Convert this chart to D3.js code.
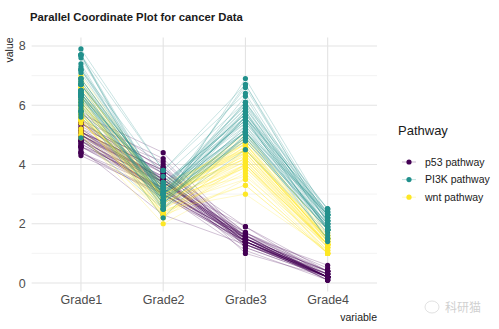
<!DOCTYPE html>
<html>
<head>
<meta charset="utf-8">
<script src="https://cdn.jsdelivr.net/npm/d3@7"></script>
<style>
  html, body { margin: 0; padding: 0; background: #fff; }
  svg { display: block; font-family: "Liberation Sans", Arial, sans-serif; }
</style>
</head>
<body>
<svg id="chart" width="499" height="329"></svg>
<script>
// one row per sample; pathway codes index into pathways[]
const variables = ["Grade1", "Grade2", "Grade3", "Grade4"];
const pathways = ["p53 pathway", "PI3K pathway", "wnt pathway"];
const colors = ["#440154", "#21908C", "#FDE725"];
const yTicks = [0, 2, 4, 6, 8];
const yMinor = [1, 3, 5, 7];

const grade1 = [5.1,4.9,4.7,4.6,5.0,5.4,4.6,5.0,4.4,4.9,5.4,4.8,4.8,4.3,5.8,5.7,5.4,5.1,5.7,5.1,5.4,5.1,4.6,5.1,4.8,5.0,5.0,5.2,5.2,4.7,4.8,5.4,5.2,5.5,4.9,5.0,5.5,4.9,4.4,5.1,5.0,4.5,4.4,5.0,5.1,4.8,5.1,4.6,5.3,5.0,
  7.0,6.4,6.9,5.5,6.5,5.7,6.3,4.9,6.6,5.2,5.0,5.9,6.0,6.1,5.6,6.7,5.6,5.8,6.2,5.6,5.9,6.1,6.3,6.1,6.4,6.6,6.8,6.7,6.0,5.7,5.5,5.5,5.8,6.0,5.4,6.0,6.7,6.3,5.6,5.5,5.5,6.1,5.8,5.0,5.6,5.7,5.7,6.2,5.1,5.7,
  6.3,5.8,7.1,6.3,6.5,7.6,4.9,7.3,6.7,7.2,6.5,6.4,6.8,5.7,5.8,6.4,6.5,7.7,7.7,6.0,6.9,5.6,7.7,6.3,6.7,7.2,6.2,6.1,6.4,7.2,7.4,7.9,6.4,6.3,6.1,7.7,6.3,6.4,6.0,6.9,6.7,6.9,5.8,6.8,6.7,6.7,6.3,6.5,6.2,5.9];
const grade2 = [3.5,3.0,3.2,3.1,3.6,3.9,3.4,3.4,2.9,3.1,3.7,3.4,3.0,3.0,4.0,4.4,3.9,3.5,3.8,3.8,3.4,3.7,3.6,3.3,3.4,3.0,3.4,3.5,3.4,3.2,3.1,3.4,4.1,4.2,3.1,3.2,3.5,3.6,3.0,3.4,3.5,2.3,3.2,3.5,3.8,3.0,3.8,3.2,3.7,3.3,
  3.2,3.2,3.1,2.3,2.8,2.8,3.3,2.4,2.9,2.7,2.0,3.0,2.2,2.9,2.9,3.1,3.0,2.7,2.2,2.5,3.2,2.8,2.5,2.8,2.9,3.0,2.8,3.0,2.9,2.6,2.4,2.4,2.7,2.7,3.0,3.4,3.1,2.3,3.0,2.5,2.6,3.0,2.6,2.3,2.7,3.0,2.9,2.9,2.5,2.8,
  3.3,2.7,3.0,2.9,3.0,3.0,2.5,2.9,2.5,3.6,3.2,2.7,3.0,2.5,2.8,3.2,3.0,3.8,2.6,2.2,3.2,2.8,2.8,2.7,3.3,3.2,2.8,3.0,2.8,3.0,2.8,3.8,2.8,2.8,2.6,3.0,3.4,3.1,3.0,3.1,3.1,3.1,2.7,3.2,3.3,3.0,2.5,3.0,3.4,3.0];
const grade3 = [1.4,1.4,1.3,1.5,1.4,1.7,1.4,1.5,1.4,1.5,1.5,1.6,1.4,1.1,1.2,1.5,1.3,1.4,1.7,1.5,1.7,1.5,1.0,1.7,1.9,1.6,1.6,1.5,1.4,1.6,1.6,1.5,1.5,1.4,1.5,1.2,1.3,1.4,1.3,1.5,1.3,1.3,1.3,1.6,1.9,1.4,1.6,1.4,1.5,1.4,
  4.7,4.5,4.9,4.0,4.6,4.5,4.7,3.3,4.6,3.9,3.5,4.2,4.0,4.7,3.6,4.4,4.5,4.1,4.5,3.9,4.8,4.0,4.9,4.7,4.3,4.4,4.8,5.0,4.5,3.5,3.8,3.7,3.9,5.1,4.5,4.5,4.7,4.4,4.1,4.0,4.4,4.6,4.0,3.3,4.2,4.2,4.2,4.3,3.0,4.1,
  6.0,5.1,5.9,5.6,5.8,6.6,4.5,6.3,5.8,6.1,5.1,5.3,5.5,5.0,5.1,5.3,5.5,6.7,6.9,5.0,5.7,4.9,6.7,4.9,5.7,6.0,4.8,4.9,5.6,5.8,6.1,6.4,5.6,5.1,5.6,6.1,5.6,5.5,4.8,5.4,5.6,5.1,5.1,5.9,5.7,5.2,5.0,5.2,5.4,5.1];
const grade4 = [0.2,0.2,0.2,0.2,0.2,0.4,0.3,0.2,0.2,0.1,0.2,0.2,0.1,0.1,0.2,0.4,0.4,0.3,0.3,0.3,0.2,0.4,0.2,0.5,0.2,0.2,0.4,0.2,0.2,0.2,0.2,0.4,0.1,0.2,0.2,0.2,0.2,0.1,0.2,0.2,0.3,0.3,0.2,0.6,0.4,0.3,0.2,0.2,0.2,0.2,
  1.4,1.5,1.5,1.3,1.5,1.3,1.6,1.0,1.3,1.4,1.0,1.5,1.0,1.4,1.3,1.4,1.5,1.0,1.5,1.1,1.8,1.3,1.5,1.2,1.3,1.4,1.4,1.7,1.5,1.0,1.1,1.0,1.2,1.6,1.5,1.6,1.5,1.3,1.3,1.3,1.2,1.4,1.2,1.0,1.3,1.2,1.3,1.3,1.1,1.3,
  2.5,1.9,2.1,1.8,2.2,2.1,1.7,1.8,1.8,2.5,2.0,1.9,2.1,2.0,2.4,2.3,1.8,2.2,2.3,1.5,2.3,2.0,2.0,1.8,2.1,1.8,1.8,1.8,2.1,1.6,1.9,2.0,2.2,1.5,1.4,2.3,2.4,1.8,1.8,2.1,2.4,2.3,1.9,2.3,2.5,2.3,1.9,2.0,2.3,1.8];
// rows 1-50 p53, 51-100 wnt, 101-150 PI3K (drawn in this order)
const pathway = [].concat(new Array(50).fill(0), new Array(50).fill(2), new Array(50).fill(1));

const svg = d3.select("#chart");
const W = 499, H = 329;
const panel = { left: 31.6, right: 377, top: 37.4, bottom: 291.6 };

const rows = grade1.map((g, i) => ({
  id: i,
  p: pathway[i],
  vals: [grade1[i], grade2[i], grade3[i], grade4[i]]
}));

const allVals = [].concat(grade1, grade2, grade3, grade4);
const [lo, hi] = d3.extent(allVals);
const pad = (hi - lo) * 0.05;

const x = d3.scalePoint().domain(variables).range([panel.left, panel.right]).padding(0.6);
const y = d3.scaleLinear().domain([lo - pad, hi + pad]).range([panel.bottom, panel.top]);

svg.append("rect").attr("width", W).attr("height", H).attr("fill", "#fff");

// grid
const grid = svg.append("g");
grid.selectAll(".minor").data(yMinor).join("line")
  .attr("x1", panel.left).attr("x2", panel.right)
  .attr("y1", d => y(d)).attr("y2", d => y(d))
  .attr("stroke", "#ebebeb").attr("stroke-width", 0.6);
grid.selectAll(".major").data(yTicks).join("line")
  .attr("x1", panel.left).attr("x2", panel.right)
  .attr("y1", d => y(d)).attr("y2", d => y(d))
  .attr("stroke", "#e3e3e3").attr("stroke-width", 1.1);
grid.selectAll(".vmajor").data(variables).join("line")
  .attr("x1", d => x(d)).attr("x2", d => x(d))
  .attr("y1", panel.top).attr("y2", panel.bottom)
  .attr("stroke", "#e3e3e3").attr("stroke-width", 1.1);

// axes (text only, like theme_minimal)
const yAxis = svg.append("g").attr("transform", `translate(${panel.left},0)`)
  .call(d3.axisLeft(y).tickValues(yTicks).tickSize(0).tickPadding(6));
yAxis.select(".domain").remove();
yAxis.selectAll("text").attr("font-size", 12.5).attr("fill", "#4d4d4d")
  .attr("font-family", "Liberation Sans, Arial, sans-serif");

const xAxis = svg.append("g").attr("transform", `translate(0,${panel.bottom})`)
  .call(d3.axisBottom(x).tickSize(0).tickPadding(4));
xAxis.select(".domain").remove();
xAxis.selectAll("text").attr("font-size", 12.5).attr("fill", "#4d4d4d")
  .attr("font-family", "Liberation Sans, Arial, sans-serif");

// lines then points
const line = d3.line().x((d, i) => x(variables[i])).y(d => y(d));
svg.append("g").selectAll("path").data(rows).join("path")
  .attr("d", d => line(d.vals))
  .attr("fill", "none")
  .attr("stroke", d => colors[d.p])
  .attr("stroke-opacity", 0.3)
  .attr("stroke-width", 0.8);

const pts = [];
rows.forEach(r => r.vals.forEach((v, i) => pts.push({ v, k: variables[i], p: r.p })));
svg.append("g").selectAll("circle").data(pts).join("circle")
  .attr("cx", d => x(d.k)).attr("cy", d => y(d.v)).attr("r", 2.6)
  .attr("fill", d => colors[d.p]);

// titles
svg.append("text").attr("x", 30).attr("y", 21)
  .attr("font-size", 11.3).attr("font-weight", "bold").attr("fill", "#1a1a1a")
  .text("Parallel Coordinate Plot for cancer Data");
svg.append("text").attr("transform", `translate(13,${panel.top}) rotate(-90)`)
  .attr("text-anchor", "end").attr("font-size", 10.5).attr("fill", "#1a1a1a")
  .text("value");
svg.append("text").attr("x", panel.right).attr("y", 321)
  .attr("text-anchor", "end").attr("font-size", 10.5).attr("fill", "#1a1a1a")
  .text("variable");

// legend
const legend = svg.append("g");
legend.append("text").attr("x", 398).attr("y", 135)
  .attr("font-size", 13).attr("fill", "#1a1a1a").text("Pathway");
const items = legend.selectAll(".item").data(pathways).join("g")
  .attr("transform", (d, i) => `translate(0,${162 + i * 17.6})`);
items.append("line").attr("x1", 402).attr("x2", 416)
  .attr("stroke", (d, i) => colors[i]).attr("stroke-opacity", 0.35).attr("stroke-width", 0.8);
items.append("circle").attr("cx", 409).attr("r", 2.6).attr("fill", (d, i) => colors[i]);
items.append("text").attr("x", 425).attr("dy", "0.35em")
  .attr("font-size", 10.5).attr("fill", "#1a1a1a").text(d => d);

// faint watermark
const wm = svg.append("g").attr("opacity", 0.3);
wm.append("ellipse").attr("cx", 432).attr("cy", 307).attr("rx", 7).attr("ry", 6)
  .attr("fill", "none").attr("stroke", "#888").attr("stroke-width", 0.8);
wm.append("text").attr("x", 445).attr("y", 312)
  .attr("font-size", 12).attr("fill", "#666")
  .attr("font-family", "Noto Sans CJK SC, sans-serif").text("科研猫");
</script>
</body>
</html>
